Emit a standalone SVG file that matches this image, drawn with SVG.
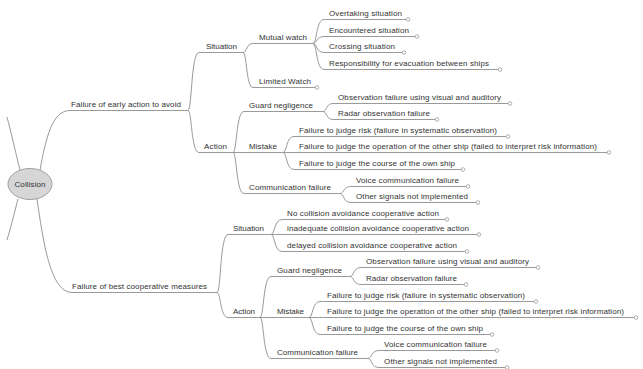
<svg xmlns="http://www.w3.org/2000/svg" width="643" height="369" viewBox="0 0 643 369">
<style>
text{font-family:"Liberation Sans",Arial,sans-serif;font-size:8px;fill:#333;}
.c{fill:none;stroke:#9a9a9a;stroke-width:1;}
.e{fill:#fff;stroke:#9a9a9a;stroke-width:0.8;}
</style>
<rect width="643" height="369" fill="#fff"/>
<g id="connectors" class="c">
<path class="c" d="M40,170 C46,138 52,110.5 70,110.5 L188,110.5"/>
<path class="c" d="M37,199 C43,240 50,292.5 72,292.5 L217,292.5"/>
<path class="c" d="M20,170 C15,150 11,132 7,117"/>
<path class="c" d="M18,199 C14,214 11,227 7,240"/>
<path class="c" d="M188,110.5 C192,110.5 191,52.5 199,52.5 L243,52.5"/>
<path class="c" d="M188,110.5 C192,110.5 191,152.5 199,152.5 L233,152.5"/>
<path class="c" d="M243,52.5 C247,52.5 246,43.5 253,43.5 L313,43.5"/>
<path class="c" d="M243,52.5 C247,52.5 246,87.5 253,87.5 L317,87.5"/>
<path class="c" d="M313,43.5 C317,43.5 316,19.5 324,19.5 L408,19.5"/>
<path class="c" d="M313,43.5 C317,43.5 316,36.5 324,36.5 L417,36.5"/>
<path class="c" d="M313,43.5 C317,43.5 316,52.5 324,52.5 L404,52.5"/>
<path class="c" d="M313,43.5 C317,43.5 316,69.5 324,69.5 L500,69.5"/>
<path class="c" d="M233,152.5 C237,152.5 236,111.5 244,111.5 L323,111.5"/>
<path class="c" d="M233,152.5 L283,152.5"/>
<path class="c" d="M233,152.5 C237,152.5 236,193.5 244,193.5 L340,193.5"/>
<path class="c" d="M323,111.5 C327,111.5 326,103.5 333,103.5 L510,103.5"/>
<path class="c" d="M323,111.5 C327,111.5 326,119.5 333,119.5 L437,119.5"/>
<path class="c" d="M283,152.5 C287,152.5 286,136.5 294,136.5 L508,136.5"/>
<path class="c" d="M283,152.5 L609,152.5"/>
<path class="c" d="M283,152.5 C287,152.5 286,169.5 294,169.5 L463,169.5"/>
<path class="c" d="M340,193.5 C344,193.5 343,186.5 351,186.5 L468,186.5"/>
<path class="c" d="M340,193.5 C344,193.5 343,202.5 351,202.5 L478,202.5"/>
<path class="c" d="M217,292.5 C221,292.5 220,234.5 228,234.5 L271,234.5"/>
<path class="c" d="M217,292.5 C221,292.5 220,317.5 228,317.5 L260,317.5"/>
<path class="c" d="M271,234.5 C275,234.5 274,219.5 282,219.5 L447,219.5"/>
<path class="c" d="M271,234.5 L479,234.5"/>
<path class="c" d="M271,234.5 C275,234.5 274,251.5 282,251.5 L467,251.5"/>
<path class="c" d="M260,317.5 C264,317.5 263,276.5 271,276.5 L350,276.5"/>
<path class="c" d="M260,317.5 L309,317.5"/>
<path class="c" d="M260,317.5 C264,317.5 263,358.5 271,358.5 L368,358.5"/>
<path class="c" d="M350,276.5 C354,276.5 353,267.5 361,267.5 L538,267.5"/>
<path class="c" d="M350,276.5 C354,276.5 353,284.5 361,284.5 L466,284.5"/>
<path class="c" d="M309,317.5 C313,317.5 312,301.5 320,301.5 L536,301.5"/>
<path class="c" d="M309,317.5 L636,317.5"/>
<path class="c" d="M309,317.5 C313,317.5 312,334.5 320,334.5 L492,334.5"/>
<path class="c" d="M368,358.5 C372,358.5 371,350.5 379,350.5 L497,350.5"/>
<path class="c" d="M368,358.5 C372,358.5 371,367.5 379,367.5 L507,367.5"/>
</g>
<g id="collision">
<ellipse cx="30" cy="184" rx="22" ry="15.5" fill="#d6d6d6" stroke="#a0a0a0" stroke-width="1"/>
<text x="30" y="187" text-anchor="middle" textLength="31">Collision</text>
</g>
<g id="f1"><text x="71" y="106.5" textLength="110">Failure of early action to avoid</text></g>
<g id="f1-situation"><text x="206" y="48.5" textLength="31">Situation</text></g>
<g id="f1-action"><text x="204" y="148.5" textLength="23">Action</text></g>
<g id="mutual-watch"><text x="259" y="39.5" textLength="48">Mutual watch</text></g>
<g id="limited-watch"><text x="259" y="83.5" textLength="52">Limited Watch</text><circle class="e" cx="317" cy="87.5" r="1.8"/></g>
<g id="overtaking"><text x="329" y="16" textLength="73">Overtaking situation</text><circle class="e" cx="408" cy="19.5" r="1.8"/></g>
<g id="encountered"><text x="329" y="32.5" textLength="80">Encountered situation</text><circle class="e" cx="417" cy="36.5" r="1.8"/></g>
<g id="crossing"><text x="329" y="49" textLength="66">Crossing situation</text><circle class="e" cx="404" cy="52.5" r="1.8"/></g>
<g id="responsibility"><text x="329" y="66" textLength="160">Responsibility for evacuation between ships</text><circle class="e" cx="500" cy="69.5" r="1.8"/></g>
<g id="f1-guard"><text x="249" y="107.5" textLength="64">Guard negligence</text></g>
<g id="f1-obs"><text x="338" y="99.5" textLength="163">Observation failure using visual and auditory</text><circle class="e" cx="510" cy="103.5" r="1.8"/></g>
<g id="f1-radar"><text x="338" y="115.5" textLength="92">Radar observation failure</text><circle class="e" cx="437" cy="119.5" r="1.8"/></g>
<g id="f1-mistake"><text x="249" y="148.5" textLength="28">Mistake</text></g>
<g id="f1-risk"><text x="299" y="132.5" textLength="198">Failure to judge risk (failure in systematic observation)</text><circle class="e" cx="508" cy="136.5" r="1.8"/></g>
<g id="f1-operation"><text x="299" y="149" textLength="298">Failure to judge the operation of the other ship (failed to interpret risk information)</text><circle class="e" cx="609" cy="152.5" r="1.8"/></g>
<g id="f1-course"><text x="299" y="165.5" textLength="156">Failure to judge the course of the own ship</text><circle class="e" cx="463" cy="169.5" r="1.8"/></g>
<g id="f1-comm"><text x="249" y="190" textLength="82">Communication failure</text></g>
<g id="f1-voice"><text x="356" y="182.5" textLength="103">Voice communication failure</text><circle class="e" cx="468" cy="186.5" r="1.8"/></g>
<g id="f1-other"><text x="356" y="198.5" textLength="112">Other signals not implemented</text><circle class="e" cx="478" cy="202.5" r="1.8"/></g>
<g id="f2"><text x="72" y="288.5" textLength="135">Failure of best cooperative measures</text></g>
<g id="f2-situation"><text x="233" y="230.5" textLength="31">Situation</text></g>
<g id="no-coop"><text x="287" y="215.5" textLength="152">No collision avoidance cooperative action</text><circle class="e" cx="447" cy="219.5" r="1.8"/></g>
<g id="inadequate-coop"><text x="287" y="230.5" textLength="182">inadequate collision avoidance cooperative action</text><circle class="e" cx="479" cy="234.5" r="1.8"/></g>
<g id="delayed-coop"><text x="287" y="248" textLength="170">delayed collision avoidance cooperative action</text><circle class="e" cx="467" cy="251.5" r="1.8"/></g>
<g id="f2-action"><text x="233" y="313.5" textLength="22">Action</text></g>
<g id="f2-guard"><text x="277" y="272.5" textLength="65">Guard negligence</text></g>
<g id="f2-obs"><text x="366" y="263.5" textLength="163">Observation failure using visual and auditory</text><circle class="e" cx="538" cy="267.5" r="1.8"/></g>
<g id="f2-radar"><text x="366" y="281" textLength="91">Radar observation failure</text><circle class="e" cx="466" cy="284.5" r="1.8"/></g>
<g id="f2-mistake"><text x="277" y="313.5" textLength="27">Mistake</text></g>
<g id="f2-risk"><text x="327" y="298" textLength="198">Failure to judge risk (failure in systematic observation)</text><circle class="e" cx="536" cy="301.5" r="1.8"/></g>
<g id="f2-operation"><text x="327" y="314" textLength="297">Failure to judge the operation of the other ship (failed to interpret risk information)</text><circle class="e" cx="636" cy="317.5" r="1.8"/></g>
<g id="f2-course"><text x="327" y="330.5" textLength="156">Failure to judge the course of the own ship</text><circle class="e" cx="492" cy="334.5" r="1.8"/></g>
<g id="f2-comm"><text x="277" y="354.5" textLength="81">Communication failure</text></g>
<g id="f2-voice"><text x="384" y="347" textLength="103">Voice communication failure</text><circle class="e" cx="497" cy="350.5" r="1.8"/></g>
<g id="f2-other"><text x="384" y="364" textLength="113">Other signals not implemented</text><circle class="e" cx="507" cy="367.5" r="1.8"/></g>
</svg>
